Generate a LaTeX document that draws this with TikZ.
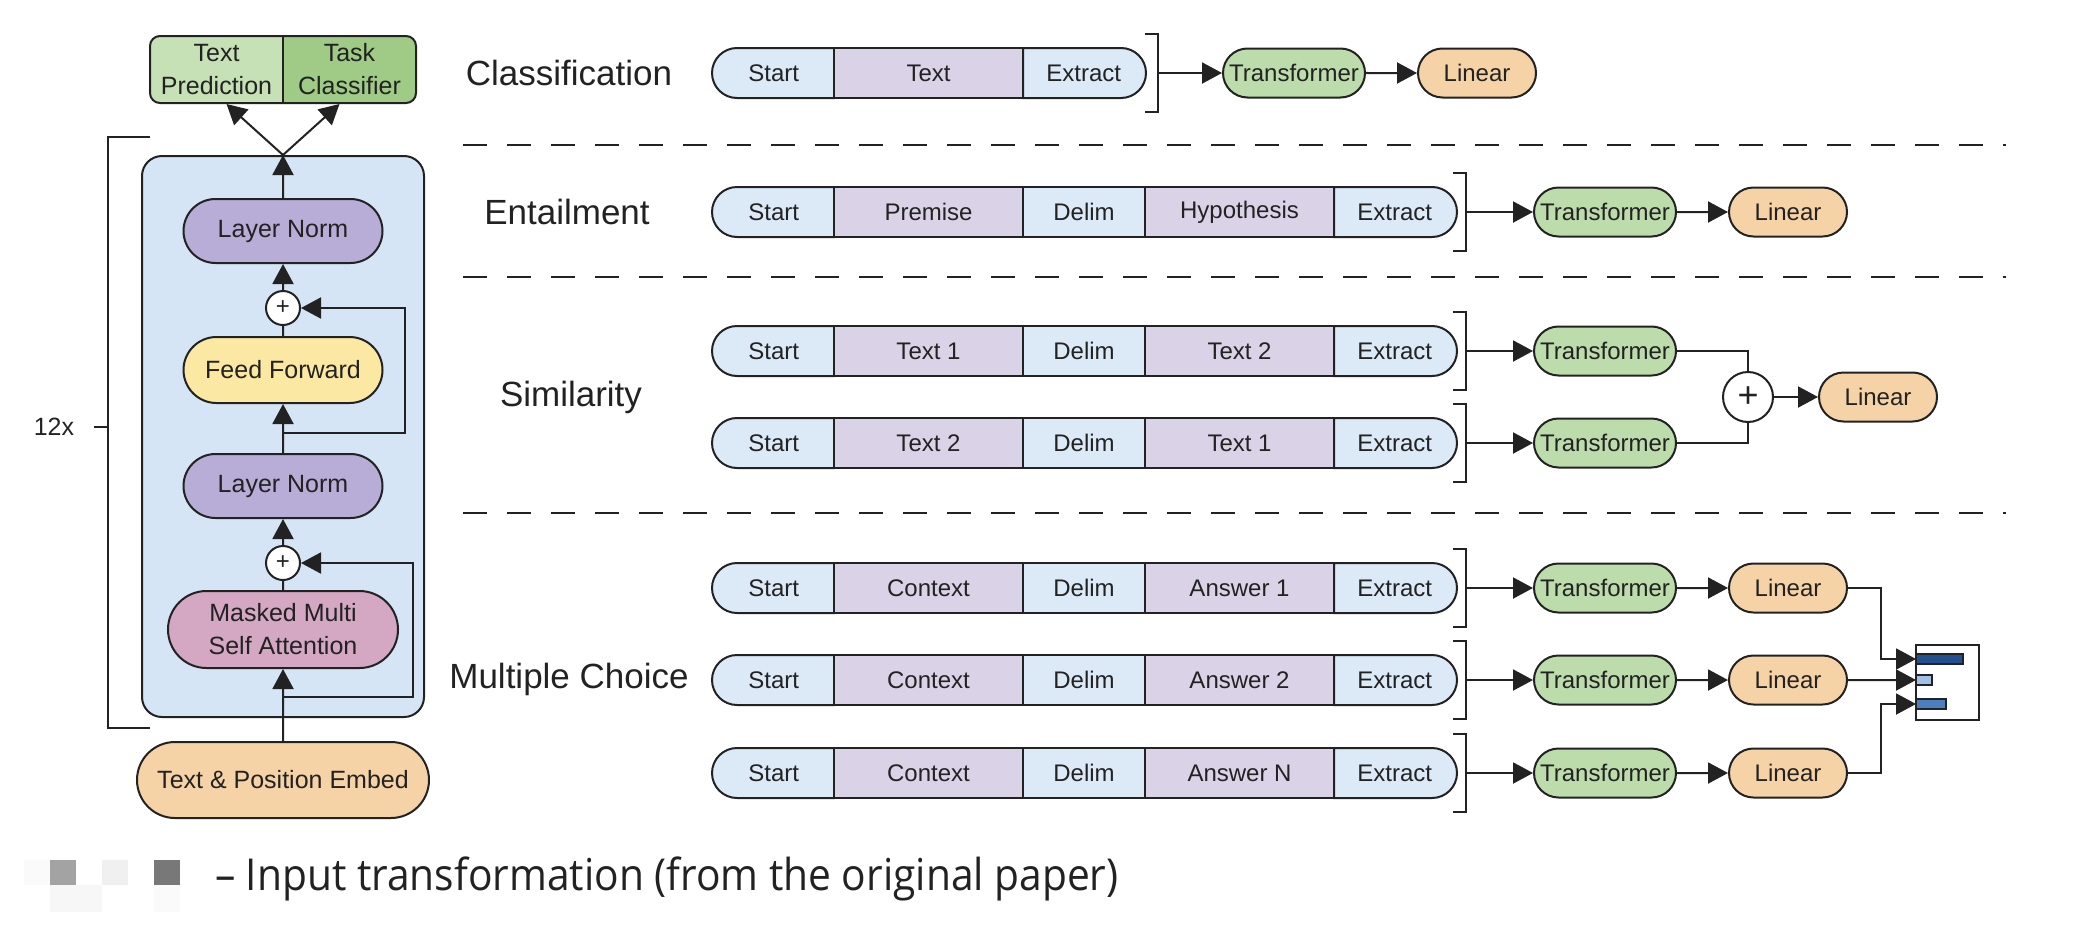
\documentclass[tikz,border=0pt]{standalone}
\usepackage{fontspec}
\setmainfont{Liberation Sans}
\newfontfamily\capfont[FakeStretch=0.925]{Open Sans}
\usepackage{tikz}
\usetikzlibrary{arrows.meta,positioning,shapes.misc}

\definecolor{ink}{HTML}{222222}
\definecolor{blkc}{HTML}{D5E5F5}
\definecolor{tokb}{HTML}{DCEAF8}
\definecolor{tokv}{HTML}{DAD2E7}
\definecolor{lnc}{HTML}{B8ADD6}
\definecolor{ffc}{HTML}{FBE8A2}
\definecolor{mmc}{HTML}{D4A7C2}
\definecolor{emc}{HTML}{F6D3A6}
\definecolor{trc}{HTML}{BCDCAB}
\definecolor{tpc}{HTML}{C7E1B6}
\definecolor{tcc}{HTML}{9FCB87}
\definecolor{barA}{HTML}{23518F}
\definecolor{barB}{HTML}{A3C1E4}
\definecolor{barC}{HTML}{4B7FBE}

\begin{document}
\begin{tikzpicture}[x=0.5pt,y=-0.5pt,color=ink,line width=1pt,>={Triangle[length=10pt,width=10.5pt]},
        pill/.style={rounded rectangle,draw,minimum height=32pt,inner sep=2pt,align=center,font=\fontsize{12.5}{16.5}\selectfont},
        plus/.style={circle,draw,fill=white,inner sep=0pt,minimum size=17pt,font=\fontsize{12}{12}\selectfont},
        tokl/.style={rounded rectangle,rounded rectangle right arc=none,draw,fill=tokb,minimum width=61pt,minimum height=25pt,inner sep=0pt,outer sep=0pt,font=\fontsize{12}{14}\selectfont},
        tokr/.style={rounded rectangle,rounded rectangle left arc=none,draw,fill=tokb,minimum width=61.5pt,minimum height=25pt,inner sep=0pt,outer sep=0pt,font=\fontsize{12}{14}\selectfont},
        tokd/.style={draw,fill=tokb,minimum width=61pt,minimum height=25pt,inner sep=0pt,outer sep=0pt,font=\fontsize{12}{14}\selectfont},
        tokv/.style={draw,fill=tokv,minimum width=94.5pt,minimum height=25pt,inner sep=0pt,outer sep=0pt,font=\fontsize{12}{14}\selectfont},
        tfm/.style={pill,fill=trc,minimum width=75pt,minimum height=24.5pt,font=\fontsize{12}{14}\selectfont},
        lin/.style={pill,fill=emc,minimum width=63pt,minimum height=24.5pt,font=\fontsize{12}{14}\selectfont},
        task/.style={font=\fontsize{17.5}{20}\selectfont},
        divline/.style={line width=1.2pt,dash pattern=on 12pt off 10pt}]
  \useasboundingbox (0,0) rectangle (2076,926);

  % decoder block
  \node[draw,fill=blkc,rounded corners=10pt,minimum width=141pt,minimum height=280.5pt] (blk) at (283,436.5) {};
  \node[pill,fill=lnc,minimum width=103.5pt] (ln1) at (283,231) {Layer Norm};
  \node[plus] (p1) at (283,308) {+};
  \node[pill,fill=ffc,minimum width=103.5pt,minimum height=33pt] (ff) at (283,370) {Feed Forward};
  \node[pill,fill=lnc,minimum width=103.5pt] (ln2) at (283,486) {Layer Norm};
  \node[plus] (p2) at (283,563) {+};
  \node[pill,fill=mmc,minimum width=119pt,minimum height=38.5pt] (mm) at (283,629.5) {Masked Multi\\Self Attention};
  \node[pill,fill=emc,minimum width=150pt,minimum height=38pt] (em) at (283,780) {Text \& Position Embed};
  \coordinate (j1) at (283,433);
  \coordinate (j2) at (283,697);

  % heads
  \begin{scope}
    \clip[rounded corners=5pt] (150,36) rectangle (416,103);
    \fill[tpc] (150,36) rectangle (283,103);
    \fill[tcc] (283,36) rectangle (416,103);
  \end{scope}
  \draw[rounded corners=5pt] (150,36) rectangle (416,103);
  \draw (283,36) -- (283,103);
  \node[align=center,inner sep=0pt,minimum width=66.5pt,minimum height=33.5pt,font=\fontsize{12.5}{16.5}\selectfont] (tp) at (216.5,69.5) {Text\\Prediction};
  \node[align=center,inner sep=0pt,minimum width=66.5pt,minimum height=33.5pt,font=\fontsize{12.5}{16.5}\selectfont] (tc) at (349.5,69.5) {Task\\Classifier};

  \draw[->] (em) -- (mm);
  \draw (mm) -- (p2);
  \draw[->] (p2) -- (ln2);
  \draw[->] (ln2) -- (ff);
  \draw (ff) -- (p1);
  \draw[->] (p1) -- (ln1);
  \draw[->] (ln1) -- (blk.north);
  \draw[->] (j2) -- ++(130,0) |- (p2);
  \draw[->] (j1) -- ++(122,0) |- (p1);
  \draw[->] (blk.north) -- ([xshift=5pt]tp.south);
  \draw[->] (blk.north) -- ([xshift=-5pt]tc.south);

  % 12x
  \draw (150,137) -- (108,137) -- (108,728) -- (150,728);
  \node[font=\fontsize{12.5}{14}\selectfont] (rep) at (54,427) {12x};
  \coordinate (kb) at (108,427);
  \draw ([xshift=6pt]rep.east) -- (kb);

  % separators
  \draw[divline] (463,145) -- (2006,145);
  \draw[divline] (463,277) -- (2006,277);
  \draw[divline] (463,513) -- (2006,513);

  % classification
  \node[task] (tcl) at (569,73) {Classification};
  \node[tokl,anchor=west] (a1) at (712,73) {Start};
  \node[tokv,right=0pt of a1] (a2) {Text};
  \node[tokr,right=0pt of a2] (a3) {Extract};
  \coordinate (ka) at (1158,73);
  \node[tfm,right=32pt of ka] (ta) {Transformer};
  \node[lin,right=25.5pt of ta] (la) {Linear};
  \draw (ka) ++(-13,-39) -- ++(13,0) -- ++(0,78) -- ++(-13,0);
  \draw[->] (ka) -- (ta);
  \draw[->] (ta) -- (la);

  % entailment
  \node[task] (ten) at (567,212) {Entailment};
  \node[tokl,anchor=west] (b1) at (712,212) {Start};
  \node[tokv,right=0pt of b1] (b2) {Premise};
  \node[tokd,right=0pt of b2] (b3) {Delim};
  \node[tokv,right=0pt of b3] (b4) {Hypothesis};
  \node[tokr,right=0pt of b4] (b5) {Extract};
  \coordinate (kc) at (1466,212);
  \node[tfm,right=33.5pt of kc] (tb) {Transformer};
  \node[lin,right=25.5pt of tb] (lb) {Linear};
  \draw (kc) ++(-13,-39) -- ++(13,0) -- ++(0,78) -- ++(-13,0);
  \draw[->] (kc) -- (tb);
  \draw[->] (tb) -- (lb);

  % similarity
  \node[task] (tsi) at (571,397) {Similarity};
  \node[tokl,anchor=west] (c1) at (712,351) {Start};
  \node[tokv,right=0pt of c1] (c2) {Text 1};
  \node[tokd,right=0pt of c2] (c3) {Delim};
  \node[tokv,right=0pt of c3] (c4) {Text 2};
  \node[tokr,right=0pt of c4] (c5) {Extract};
  \node[tokl,anchor=west] (d1) at (712,443) {Start};
  \node[tokv,right=0pt of d1] (d2) {Text 2};
  \node[tokd,right=0pt of d2] (d3) {Delim};
  \node[tokv,right=0pt of d3] (d4) {Text 1};
  \node[tokr,right=0pt of d4] (d5) {Extract};
  \coordinate (kd) at (1466,351);
  \coordinate (ke) at (1466,443);
  \node[tfm,right=33.5pt of kd] (tc1) {Transformer};
  \node[tfm,right=33.5pt of ke] (tc2) {Transformer};
  \node[circle,draw,fill=white,inner sep=0pt,minimum size=25pt,font=\fontsize{18}{18}\selectfont] (sp) at (1748,397) {+};
  \node[lin,right=22pt of sp] (ls) {Linear};
  \draw (kd) ++(-13,-39) -- ++(13,0) -- ++(0,78) -- ++(-13,0);
  \draw (ke) ++(-13,-39) -- ++(13,0) -- ++(0,78) -- ++(-13,0);
  \draw[->] (kd) -- (tc1);
  \draw[->] (ke) -- (tc2);
  \draw (tc1) -| (sp);
  \draw (tc2) -| (sp);
  \draw[->] (sp) -- (ls);

  % multiple choice
  \node[task] (tmc) at (569,679) {Multiple Choice};
  \node[tokl,anchor=west] (e1) at (712,588) {Start};
  \node[tokv,right=0pt of e1] (e2) {Context};
  \node[tokd,right=0pt of e2] (e3) {Delim};
  \node[tokv,right=0pt of e3] (e4) {Answer 1};
  \node[tokr,right=0pt of e4] (e5) {Extract};
  \node[tokl,anchor=west] (f1) at (712,680) {Start};
  \node[tokv,right=0pt of f1] (f2) {Context};
  \node[tokd,right=0pt of f2] (f3) {Delim};
  \node[tokv,right=0pt of f3] (f4) {Answer 2};
  \node[tokr,right=0pt of f4] (f5) {Extract};
  \node[tokl,anchor=west] (g1) at (712,773) {Start};
  \node[tokv,right=0pt of g1] (g2) {Context};
  \node[tokd,right=0pt of g2] (g3) {Delim};
  \node[tokv,right=0pt of g3] (g4) {Answer N};
  \node[tokr,right=0pt of g4] (g5) {Extract};
  \coordinate (kf) at (1466,588);
  \coordinate (kg) at (1466,680);
  \coordinate (kh) at (1466,773);
  \node[tfm,right=33.5pt of kf] (te1) {Transformer};
  \node[tfm,right=33.5pt of kg] (te2) {Transformer};
  \node[tfm,right=33.5pt of kh] (te3) {Transformer};
  \node[lin,right=25.5pt of te1] (le1) {Linear};
  \node[lin,right=25.5pt of te2] (le2) {Linear};
  \node[lin,right=25.5pt of te3] (le3) {Linear};
  \draw (kf) ++(-13,-39) -- ++(13,0) -- ++(0,78) -- ++(-13,0);
  \draw (kg) ++(-13,-39) -- ++(13,0) -- ++(0,78) -- ++(-13,0);
  \draw (kh) ++(-13,-39) -- ++(13,0) -- ++(0,78) -- ++(-13,0);
  \draw[->] (kf) -- (te1);
  \draw[->] (kg) -- (te2);
  \draw[->] (kh) -- (te3);
  \draw[->] (te1) -- (le1);
  \draw[->] (te2) -- (le2);
  \draw[->] (te3) -- (le3);

  % scores
  \node[draw,line width=0.8pt,minimum width=31.5pt,minimum height=37.5pt,inner sep=0pt] (sc) at (1947.5,682.5) {};
  \draw[fill=barA,line width=0.6pt] (1916,654) rectangle (1963,664);
  \draw[fill=barB,line width=0.6pt] (1916,675) rectangle (1932,685);
  \draw[fill=barC,line width=0.6pt] (1916,699) rectangle (1946,709);
  \coordinate (h1) at (1916,659);
  \coordinate (h2) at (1916,680);
  \coordinate (h3) at (1916,704);
  \draw[->] (le1.east) -- ++(33,0) |- (h1);
  \draw[->] (le2) -- (h2);
  \draw[->] (le3.east) -- ++(33,0) |- (h3);

  % caption
  \fill[black!2] (24,860) rectangle (50,885);
  \fill[black!3] (50,885) rectangle (102,912);
  \fill[black!2] (154,885) rectangle (180,912);
  \fill[black!36] (50,860) rectangle (76,885);
  \fill[black!6] (102,860) rectangle (128,885);
  \fill[black!53] (154,860) rectangle (180,885);
  \node[anchor=west,inner sep=0pt,font=\capfont\fontsize{22}{26}\selectfont] (cap) at (214,879) {– Input transformation (from the original paper)};
\end{tikzpicture}
\end{document}
